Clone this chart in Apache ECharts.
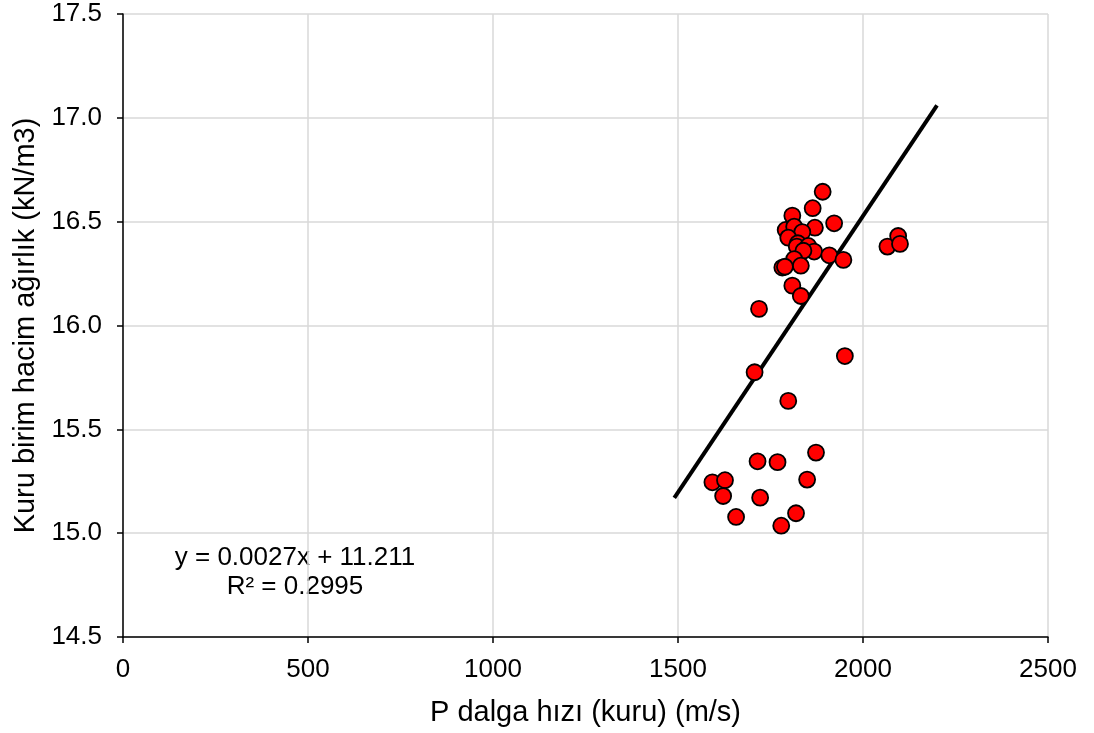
<!DOCTYPE html>
<html>
<head>
<meta charset="utf-8">
<script src="https://cdn.jsdelivr.net/npm/echarts@6/dist/echarts.min.js"></script>
<style>
  html, body { margin: 0; padding: 0; background: #fff; }
  #chart { width: 1094px; height: 733px; }
</style>
</head>
<body>
<div id="chart"></div>
<script>
// P dalga hızı (m/s) vs kuru birim hacim ağırlık (kN/m3)
const pVelocity = [
  1891, 1864, 1809, 1922, 1791, 1814, 1870, 1836, 1798, 1824,
  1821, 1852, 1868, 1839, 1909, 1947, 1814, 1832, 1782, 1789,
  1809, 1832, 1719, 2066, 2095, 2100, 1951, 1707, 1798, 1873,
  1715, 1769, 1593, 1627, 1849, 1622, 1722, 1657, 1819, 1779
];
const unitWeight = [
  16.644, 16.565, 16.529, 16.492, 16.46, 16.476, 16.471, 16.45, 16.423, 16.396,
  16.38, 16.383, 16.356, 16.36, 16.338, 16.316, 16.32, 16.288, 16.279, 16.283,
  16.192, 16.142, 16.08, 16.38, 16.431, 16.393, 15.853, 15.775, 15.637, 15.388,
  15.346, 15.342, 15.245, 15.255, 15.258, 15.179, 15.171, 15.078, 15.096, 15.036
];
// trend line ends as drawn
const trendX = [1490, 2200];
const trendY = [15.17, 17.06];
const equationLines = ["y = 0.0027x + 11.211", "R² = 0.2995"];

const font = "'Liberation Sans', Arial, sans-serif";

const points = pVelocity.map((v, i) => [v, unitWeight[i]]);
const trend = trendX.map((v, i) => [v, trendY[i]]);

const myChart = echarts.init(document.getElementById("chart"));
myChart.setOption({
  animation: false,
  grid: { left: 123, right: 46, top: 14, bottom: 96 },
  xAxis: {
    type: "value",
    min: 0,
    max: 2500,
    interval: 500,
    name: "P dalga hızı (kuru) (m/s)",
    nameLocation: "middle",
    nameGap: 61,
    nameTextStyle: { fontFamily: font, fontSize: 29, color: "#000" },
    axisLine: { onZero: false, lineStyle: { color: "#000", width: 1.5 } },
    axisTick: { inside: false, length: 6, lineStyle: { color: "#000", width: 1.5 } },
    axisLabel: {
      fontFamily: font, fontSize: 26, color: "#000", margin: 20,
      formatter: v => String(v)
    },
    splitLine: { lineStyle: { color: "#d9d9d9", width: 1.5 } }
  },
  yAxis: {
    type: "value",
    min: 14.5,
    max: 17.5,
    interval: 0.5,
    name: "Kuru birim hacim ağırlık (kN/m3)",
    nameLocation: "middle",
    nameGap: 81,
    nameTextStyle: { fontFamily: font, fontSize: 29, color: "#000" },
    axisLine: { show: true, lineStyle: { color: "#000", width: 1.5 } },
    axisTick: { show: true, length: 6, lineStyle: { color: "#000", width: 1.5 } },
    axisLabel: {
      fontFamily: font, fontSize: 26, color: "#000", margin: 21,
      formatter: v => v.toFixed(1)
    },
    splitLine: { lineStyle: { color: "#d9d9d9", width: 1.5 } }
  },
  graphic: [
    {
      type: "text", x: 295, y: 543,
      style: {
        text: equationLines.join("\n"), fontFamily: font, fontSize: 26,
        fill: "#000", align: "center", verticalAlign: "top", lineHeight: 29
      }
    }
  ],
  series: [
    {
      type: "line",
      data: trend,
      showSymbol: false,
      lineStyle: { color: "#000", width: 4 },
      z: 3
    },
    {
      type: "scatter",
      data: points,
      symbolSize: 16,
      itemStyle: { color: "#ff0000", borderColor: "#000", borderWidth: 1.8, opacity: 1 },
      z: 4
    }
  ]
});
</script>
</body>
</html>
